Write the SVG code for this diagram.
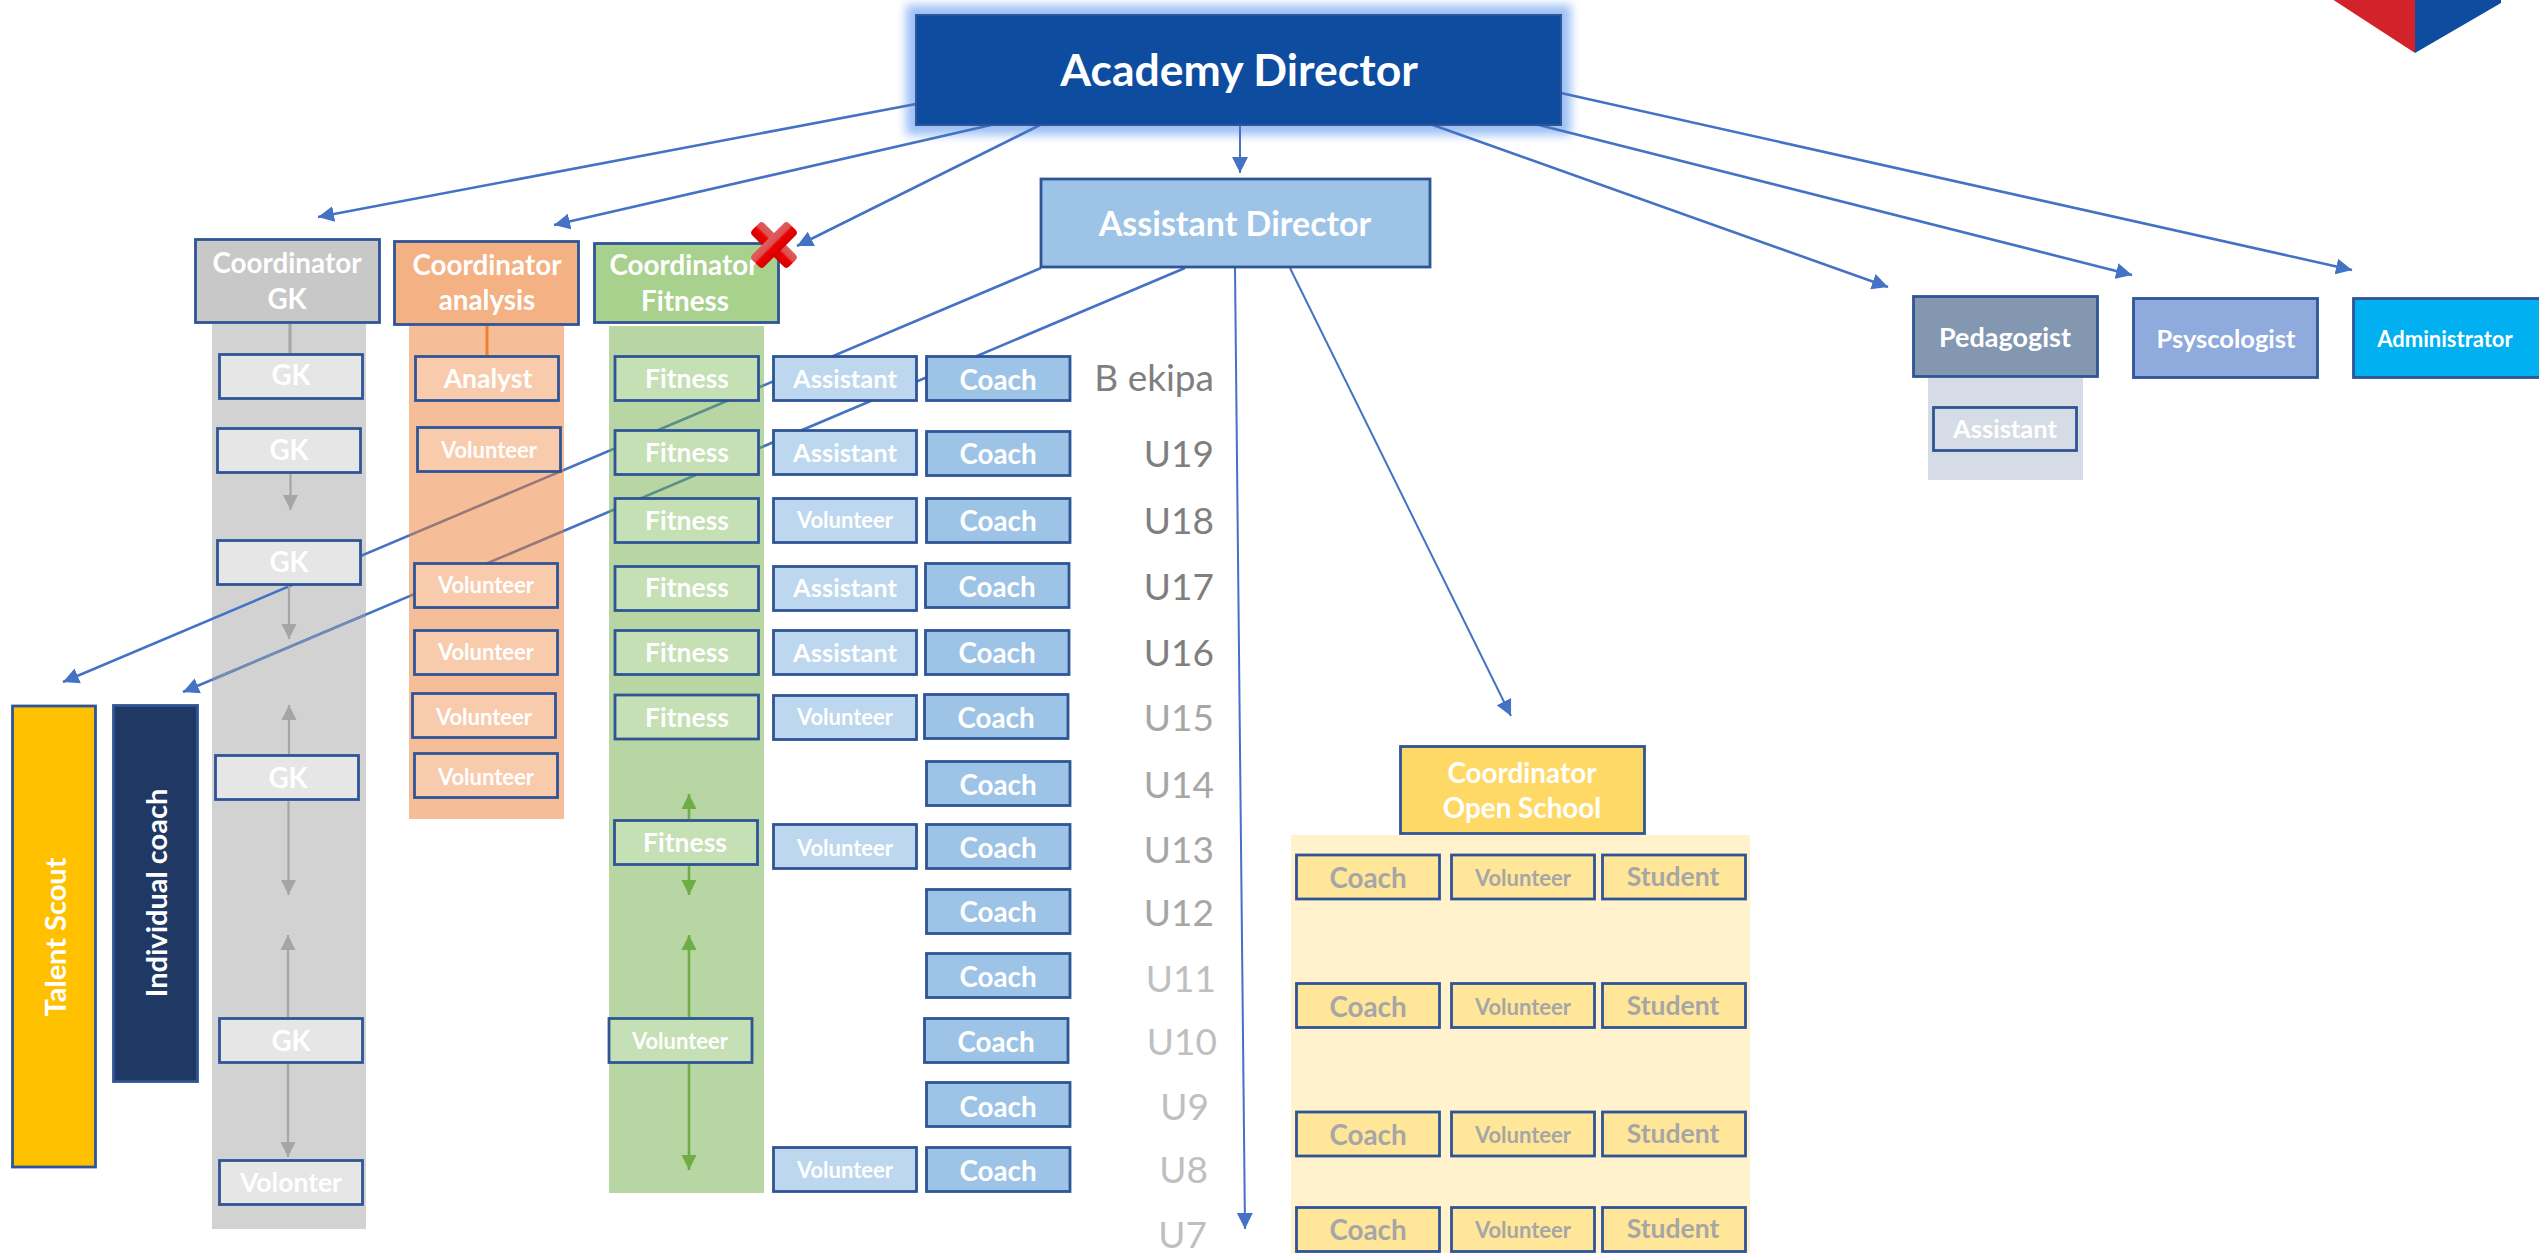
<svg xmlns="http://www.w3.org/2000/svg" width="2539" height="1253" viewBox="0 0 2539 1253">
<style>
text{font-family:"Lato","Carlito","Open Sans",sans-serif;font-weight:700;fill:#fff;text-anchor:middle}
.box{stroke:#2F5597;stroke-width:2.8}
.gk{fill:#E6E6E6}.an{fill:#F8CBAD}.fi{fill:#C5E0B4}.as{fill:#BDD7EE}.co{fill:#9DC3E6}.ye{fill:#FFE699}
.t29{font-size:29px}.t25{font-size:25.500px}.t21{font-size:22px}.t26{font-size:26.500px}.t28{font-size:27.800px}
.y{fill:#A6A6A6}
.u{font-weight:400;font-size:37px;text-anchor:end}
.u1{fill:#7F7F7F}.u2{fill:#A6A6A6}.u3{fill:#BFBFBF}
.bl{stroke:#4472C4;stroke-width:2.6;fill:none;marker-end:url(#hb)}
.blt{stroke:#4472C4;stroke-width:2;fill:none;marker-end:url(#hb)}
.gr{stroke:#A5A5A5;stroke-width:2.2;fill:none;marker-end:url(#hg)}
.gn{stroke:#70AD47;stroke-width:2.6;fill:none;marker-end:url(#hn)}
</style>
<defs>
<marker id="hb" markerUnits="userSpaceOnUse" markerWidth="17" markerHeight="17" refX="16" refY="8.5" orient="auto"><path d="M0 0.5L16 8.5L0 16.5Z" fill="#4472C4"/></marker>
<marker id="hg" markerUnits="userSpaceOnUse" markerWidth="16" markerHeight="16" refX="15" refY="8" orient="auto"><path d="M0 0.5L15 8L0 15.5Z" fill="#A5A5A5"/></marker>
<marker id="hn" markerUnits="userSpaceOnUse" markerWidth="16" markerHeight="16" refX="15" refY="8" orient="auto"><path d="M0 0.5L15 8L0 15.5Z" fill="#70AD47"/></marker>
<filter id="glow" x="-10%" y="-30%" width="120%" height="160%"><feGaussianBlur stdDeviation="5"/></filter>
<linearGradient id="xg" gradientUnits="userSpaceOnUse" x1="774" y1="222" x2="774" y2="269"><stop offset="0" stop-color="#E77C7C"/><stop offset=".45" stop-color="#DC5050"/><stop offset=".5" stop-color="#EE0000"/><stop offset="1" stop-color="#A00000"/></linearGradient>
</defs>

<rect id="band-gk" x="212" y="324" width="154" height="905" fill="#A5A5A5" opacity=".5"/>
<rect id="director-glow" x="906" y="5" width="665" height="130" fill="#9DC0F5" filter="url(#glow)"/>

<g id="connectors">
<path class="bl" d="M916 104L318 217"/>
<path class="bl" d="M991 125L554 225"/>
<path class="bl" d="M1040 125L797 246"/>
<path class="blt" d="M1240 125V173"/>
<path class="bl" d="M1433 125L1888 287"/>
<path class="bl" d="M1539 125L2132 275"/>
<path class="bl" d="M1561 93L2352 270"/>
<path class="bl" d="M1041 268L63 682"/>
<path class="bl" d="M1185 268L183 692"/>
<path d="M366 614.600L212 679.700" stroke="#748CB4" stroke-width="2.6" fill="none"/>
<path class="blt" d="M1235 268L1245 1229"/>
<path class="blt" d="M1290 268L1511 716"/>
<path d="M290 324V353" stroke="#A5A5A5" stroke-width="3" fill="none"/>
<path d="M487 326V355" stroke="#ED7D31" stroke-width="3" fill="none"/>
<path class="gr" d="M290.500 474V510"/>
<path class="gr" d="M289 586V639"/>
<path class="gr" d="M289 754V705"/>
<path class="gr" d="M288.500 801V895"/>
<path class="gr" d="M288 1017V935"/>
<path class="gr" d="M288 1064V1157"/>
</g>

<rect id="band-analysis" x="409" y="326" width="155" height="493" fill="#ED7D31" opacity=".5"/>
<rect id="band-fitness" x="609" y="326" width="155" height="867" fill="#70AD47" opacity=".5"/>
<rect id="band-openschool" x="1291" y="835" width="459" height="418" fill="#FFF2CC"/>
<rect id="band-pedagogist" x="1928" y="378" width="155" height="102" fill="#D6DCE5"/>

<g id="connectors-fitness">
<path class="gn" d="M689 819V794"/>
<path class="gn" d="M689 866V895"/>
<path class="gn" d="M689 1017V935"/>
<path class="gn" d="M689 1064V1170"/>
</g>

<g id="logo"><polygon points="2333.500,0 2415,0 2415,53" fill="#D2232A"/><polygon points="2415,0 2501,0 2501,3 2415,53" fill="#0D4C9F"/></g>

<g id="academy-director"><rect x="916" y="15" width="645" height="110" fill="#0D4C9F" stroke="#2F5597" stroke-width="2"/><text x="1239" y="86" font-size="44.500">Academy Director</text></g>
<g id="assistant-director"><rect class="box co" x="1041" y="179" width="389" height="88"/><text x="1235" y="236" font-size="34">Assistant Director</text></g>

<g id="coordinator-gk"><rect class="box" fill="#C8C8C8" x="195.500" y="239.500" width="184" height="83"/><text class="t28" x="287" y="273">Coordinator</text><text class="t28" x="287" y="309">GK</text></g>
<g id="coordinator-analysis"><rect class="box" fill="#F4B183" x="394.500" y="241.500" width="184" height="83"/><text class="t28" x="487" y="275">Coordinator</text><text class="t28" x="487" y="310">analysis</text></g>
<g id="coordinator-fitness"><rect class="box" fill="#A9D18E" x="594.500" y="243.500" width="184" height="79"/><text class="t28" x="684" y="275">Coordinator</text><text class="t28" x="685" y="311">Fitness</text></g>

<g id="x-mark"><g fill="url(#xg)"><rect x="748" y="236.500" width="52" height="17" rx="4" transform="rotate(45 774 245)"/><rect x="748" y="236.500" width="52" height="17" rx="4" transform="rotate(-45 774 245)"/></g></g>

<g id="talent-scout"><rect class="box" fill="#FFC000" x="12.500" y="706" width="83" height="461"/><text class="t29" transform="translate(66 937) rotate(-90)">Talent Scout</text></g>
<g id="individual-coach"><rect class="box" fill="#203864" x="113.500" y="705.500" width="84" height="376"/><text class="t29" transform="translate(167 893) rotate(-90)">Individual coach</text></g>

<g id="gk-1"><rect class="box gk" x="219.500" y="354.500" width="143" height="44"/><text class="t28" x="291" y="385">GK</text></g>
<g id="gk-2"><rect class="box gk" x="217.500" y="428.500" width="143" height="44"/><text class="t28" x="289" y="460">GK</text></g>
<g id="gk-3"><rect class="box gk" x="217.500" y="540.500" width="143" height="44"/><text class="t28" x="289" y="572">GK</text></g>
<g id="gk-4"><rect class="box gk" x="215.500" y="755.500" width="143" height="44"/><text class="t28" x="288" y="788">GK</text></g>
<g id="gk-5"><rect class="box gk" x="219.500" y="1018.500" width="143" height="44"/><text class="t28" x="291" y="1051">GK</text></g>
<g id="gk-volonter"><rect class="box gk" x="219.500" y="1160.500" width="143" height="44"/><text class="t26" x="291" y="1192">Volonter</text></g>

<g id="analyst"><rect class="box an" x="415.500" y="356.500" width="143" height="44"/><text class="t26" x="488" y="388">Analyst</text></g>
<g id="an-vol-1"><rect class="box an" x="417.500" y="427.500" width="143" height="44"/><text class="t21" x="489" y="458">Volunteer</text></g>
<g id="an-vol-2"><rect class="box an" x="414.500" y="563.500" width="143" height="44"/><text class="t21" x="486" y="593">Volunteer</text></g>
<g id="an-vol-3"><rect class="box an" x="414.500" y="630.500" width="143" height="44"/><text class="t21" x="486" y="660">Volunteer</text></g>
<g id="an-vol-4"><rect class="box an" x="412.500" y="693.500" width="143" height="44"/><text class="t21" x="484" y="725">Volunteer</text></g>
<g id="an-vol-5"><rect class="box an" x="414.500" y="753.500" width="143" height="44"/><text class="t21" x="486" y="785">Volunteer</text></g>

<g id="fit-1"><rect class="box fi" x="615" y="356.500" width="143.500" height="44"/><text class="t26" x="687" y="388">Fitness</text></g>
<g id="fit-2"><rect class="box fi" x="615" y="430.500" width="143.500" height="44"/><text class="t26" x="687" y="462">Fitness</text></g>
<g id="fit-3"><rect class="box fi" x="615" y="498.500" width="143.500" height="44"/><text class="t26" x="687" y="530">Fitness</text></g>
<g id="fit-4"><rect class="box fi" x="615" y="566.500" width="143.500" height="44"/><text class="t26" x="687" y="597">Fitness</text></g>
<g id="fit-5"><rect class="box fi" x="615" y="630.500" width="143.500" height="44"/><text class="t26" x="687" y="662">Fitness</text></g>
<g id="fit-6"><rect class="box fi" x="615" y="695" width="143.500" height="44"/><text class="t26" x="687" y="727">Fitness</text></g>
<g id="fit-7"><rect class="box fi" x="614.500" y="820.500" width="143" height="44"/><text class="t26" x="685" y="852">Fitness</text></g>
<g id="fit-vol"><rect class="box fi" x="609" y="1018.500" width="143" height="44"/><text class="t21" x="680" y="1049">Volunteer</text></g>

<g id="as-1"><rect class="box as" x="773.500" y="356.500" width="143" height="44"/><text class="t25" x="845" y="388">Assistant</text></g>
<g id="as-2"><rect class="box as" x="773.500" y="430.500" width="143" height="44"/><text class="t25" x="845" y="462">Assistant</text></g>
<g id="as-3"><rect class="box as" x="773.500" y="498.500" width="143" height="44"/><text class="t21" x="845" y="528">Volunteer</text></g>
<g id="as-4"><rect class="box as" x="773.500" y="566.500" width="143" height="44"/><text class="t25" x="845" y="597">Assistant</text></g>
<g id="as-5"><rect class="box as" x="773.500" y="630.500" width="143" height="44"/><text class="t25" x="845" y="662">Assistant</text></g>
<g id="as-6"><rect class="box as" x="773.500" y="695.500" width="143" height="44"/><text class="t21" x="845" y="725">Volunteer</text></g>
<g id="as-7"><rect class="box as" x="773.500" y="824.500" width="143" height="44"/><text class="t21" x="845" y="856">Volunteer</text></g>
<g id="as-8"><rect class="box as" x="773.500" y="1147.500" width="143" height="44"/><text class="t21" x="845" y="1178">Volunteer</text></g>

<g id="coach-1"><rect class="box co" x="926.500" y="356.500" width="143.500" height="44"/><text class="t28" x="998" y="390">Coach</text></g>
<g id="coach-2"><rect class="box co" x="926.500" y="431.500" width="143.500" height="44"/><text class="t28" x="998" y="464">Coach</text></g>
<g id="coach-3"><rect class="box co" x="926.500" y="498.500" width="143.500" height="44"/><text class="t28" x="998" y="531">Coach</text></g>
<g id="coach-4"><rect class="box co" x="925.500" y="563.500" width="143.500" height="44"/><text class="t28" x="997" y="597">Coach</text></g>
<g id="coach-5"><rect class="box co" x="925.500" y="630.500" width="143.500" height="44"/><text class="t28" x="997" y="663">Coach</text></g>
<g id="coach-6"><rect class="box co" x="924.500" y="694.500" width="143.500" height="44"/><text class="t28" x="996" y="728">Coach</text></g>
<g id="coach-7"><rect class="box co" x="926.500" y="761.500" width="143.500" height="44"/><text class="t28" x="998" y="795">Coach</text></g>
<g id="coach-8"><rect class="box co" x="926.500" y="824.500" width="143.500" height="44"/><text class="t28" x="998" y="858">Coach</text></g>
<g id="coach-9"><rect class="box co" x="926.500" y="889.500" width="143.500" height="44"/><text class="t28" x="998" y="922">Coach</text></g>
<g id="coach-10"><rect class="box co" x="926.500" y="953.500" width="143.500" height="44"/><text class="t28" x="998" y="987">Coach</text></g>
<g id="coach-11"><rect class="box co" x="924.500" y="1018.500" width="143.500" height="44"/><text class="t28" x="996" y="1052">Coach</text></g>
<g id="coach-12"><rect class="box co" x="926.500" y="1082.500" width="143.500" height="44"/><text class="t28" x="998" y="1117">Coach</text></g>
<g id="coach-13"><rect class="box co" x="926.500" y="1147.500" width="143.500" height="44"/><text class="t28" x="998" y="1181">Coach</text></g>

<g id="team-labels">
<text class="u u1" x="1214" y="391">B ekipa</text>
<text class="u u1" x="1214" y="467">U19</text>
<text class="u u1" x="1214" y="534">U18</text>
<text class="u u1" x="1214" y="600">U17</text>
<text class="u u1" x="1214" y="666">U16</text>
<text class="u u2" x="1214" y="731">U15</text>
<text class="u u2" x="1214" y="798">U14</text>
<text class="u u2" x="1214" y="863">U13</text>
<text class="u u2" x="1214" y="926">U12</text>
<text class="u u3" x="1216" y="992">U11</text>
<text class="u u3" x="1217" y="1055">U10</text>
<text class="u u3" x="1209" y="1120">U9</text>
<text class="u u3" x="1208" y="1183">U8</text>
<text class="u u3" x="1207" y="1248">U7</text>
</g>

<g id="coordinator-open-school"><rect class="box" fill="#FFD966" x="1400.500" y="746.500" width="244" height="87"/><text class="t28" x="1522" y="783">Coordinator</text><text class="t28" x="1522" y="818">Open School</text></g>
<g id="os-row-1">
<rect class="box ye" x="1296.500" y="855" width="143" height="44"/><text class="t28 y" x="1368" y="888">Coach</text>
<rect class="box ye" x="1451.500" y="855" width="143" height="44"/><text class="t21 y" x="1523" y="886">Volunteer</text>
<rect class="box ye" x="1602.500" y="855" width="143" height="44"/><text class="t26 y" x="1673" y="886">Student</text>
</g>
<g id="os-row-2">
<rect class="box ye" x="1296.500" y="983.500" width="143" height="44"/><text class="t28 y" x="1368" y="1017">Coach</text>
<rect class="box ye" x="1451.500" y="983.500" width="143" height="44"/><text class="t21 y" x="1523" y="1015">Volunteer</text>
<rect class="box ye" x="1602.500" y="983.500" width="143" height="44"/><text class="t26 y" x="1673" y="1015">Student</text>
</g>
<g id="os-row-3">
<rect class="box ye" x="1296.500" y="1112" width="143" height="44"/><text class="t28 y" x="1368" y="1145">Coach</text>
<rect class="box ye" x="1451.500" y="1112" width="143" height="44"/><text class="t21 y" x="1523" y="1143">Volunteer</text>
<rect class="box ye" x="1602.500" y="1112" width="143" height="44"/><text class="t26 y" x="1673" y="1143">Student</text>
</g>
<g id="os-row-4">
<rect class="box ye" x="1296.500" y="1207.500" width="143" height="44"/><text class="t28 y" x="1368" y="1240">Coach</text>
<rect class="box ye" x="1451.500" y="1207.500" width="143" height="44"/><text class="t21 y" x="1523" y="1238">Volunteer</text>
<rect class="box ye" x="1602.500" y="1207.500" width="143" height="44"/><text class="t26 y" x="1673" y="1238">Student</text>
</g>

<g id="pedagogist"><rect class="box" fill="#8497B0" x="1913.500" y="296.500" width="184" height="80"/><text font-size="27" x="2005" y="347">Pedagogist</text></g>
<g id="pedagogist-assistant"><rect class="box" fill="#D6DCE5" x="1933.500" y="407.500" width="143" height="43"/><text class="t25" x="2005" y="438">Assistant</text></g>
<g id="psyscologist"><rect class="box" fill="#8FAADC" x="2133.500" y="298.500" width="184" height="79"/><text class="t25" x="2226" y="348">Psyscologist</text></g>
<g id="administrator"><rect class="box" fill="#00B0F0" x="2353.500" y="298.500" width="187" height="79"/><text class="t21" x="2445" y="347">Administrator</text></g>
</svg>
